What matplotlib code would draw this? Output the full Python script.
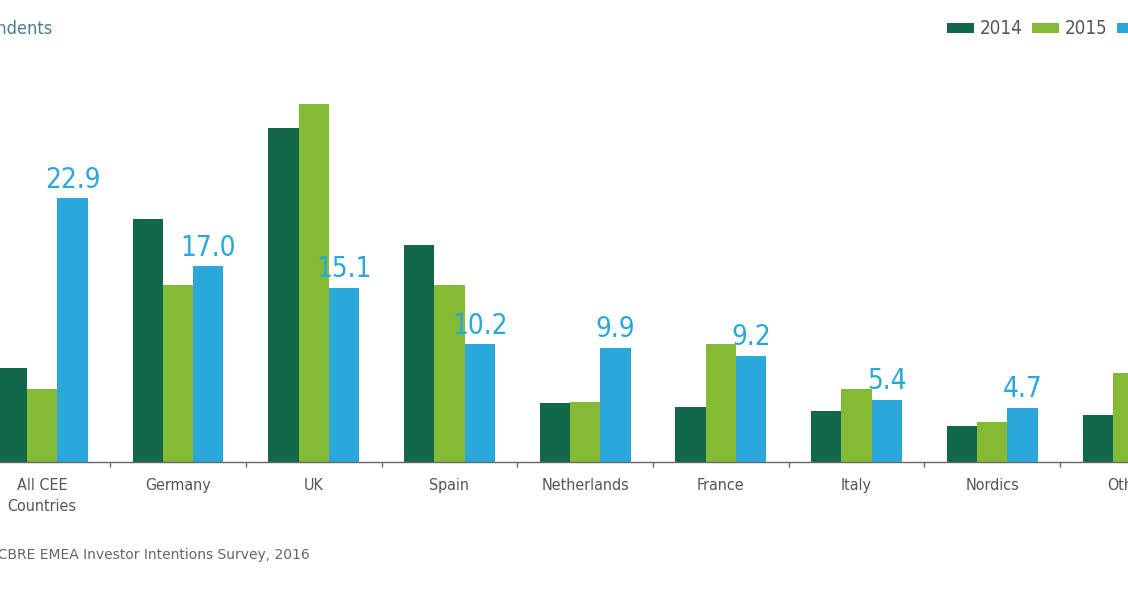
import numpy as np
import matplotlib
matplotlib.use("Agg")
import matplotlib.pyplot as plt
from matplotlib import font_manager

# data (% of respondents)
categories = ["All CEE\nCountries", "Germany", "UK", "Spain", "Netherlands",
              "France", "Italy", "Nordics", "Other"]
years = ["2014", "2015", "2016"]
vals_2014 = [8.2, 21.1, 29.0, 18.8, 5.1, 4.8, 4.4, 3.1, 4.1]
vals_2015 = [6.3, 15.4, 31.1, 15.4, 5.2, 10.2, 6.3, 3.5, 7.7]
vals_2016 = [22.9, 17.0, 15.1, 10.2, 9.9, 9.2, 5.4, 4.7, 6.1]

colors = ["#11684a", "#84ba34", "#29a8d9"]

names = {f.name for f in font_manager.fontManager.ttflist}
if "Liberation Sans Narrow" in names:
    cond = dict(family="Liberation Sans Narrow")
else:
    cond = dict(family="DejaVu Sans", stretch="condensed")

fig = plt.figure(figsize=(11.28, 5.91), dpi=100)
W, H = 1128.0, 591.0
base_px = 462.0
ax = fig.add_axes([0, (H - base_px) / H, 1, base_px / H])

x = np.arange(len(categories))
bw = 0.223
series = [vals_2014, vals_2015, vals_2016]
for i, (yr, vals) in enumerate(zip(years, series)):
    ax.bar(x + (i - 1) * bw, vals, width=bw, color=colors[i], label=yr,
           edgecolor="none")

# value labels on the 2016 bars
for xi, v in zip(x, vals_2016):
    ax.text(xi + bw, v + 0.4, "%.1f" % v, ha="center", va="bottom",
            color=colors[2], fontsize=20, **cond)

px_per_unit = 136.0
ax.set_xlim(-42.3 / px_per_unit, (W - 42.3) / px_per_unit)
ax.set_ylim(0, base_px / 11.52)

for s in ["top", "right", "left"]:
    ax.spines[s].set_visible(False)
ax.spines["bottom"].set_color("#666666")
ax.spines["bottom"].set_linewidth(1.0)
ax.set_yticks([])
ax.set_xticks(x)
ax.set_xticklabels(categories, color="#555555", fontsize=11.5, linespacing=1.5,
                   **cond)
ax.tick_params(axis="x", which="major", length=0, pad=11.5)
ax.set_xticks(x[:-1] + 0.5, minor=True)
ax.tick_params(axis="x", which="minor", length=3.5, width=1, color="#666666",
               direction="out")

fig.text(52 / W, 1 - 29 / H, "% of respondents", ha="right", va="center",
         color="#4a7e86", fontsize=13, **cond)
fig.text(310 / W, 1 - 555 / H, "Source: CBRE EMEA Investor Intentions Survey, 2016",
         ha="right", va="center", color="#666666", fontsize=10)

leg = fig.legend(loc="center left", bbox_to_anchor=(947 / W, 1 - 29 / H),
                 ncol=3, frameon=False, handlelength=1.45, handleheight=0.5,
                 handletextpad=0.3, columnspacing=0.5, borderaxespad=0,
                 borderpad=0, prop=dict(size=13.5, **cond))
for t in leg.get_texts():
    t.set_color("#555555")

fig.savefig("out.png", dpi=100)
